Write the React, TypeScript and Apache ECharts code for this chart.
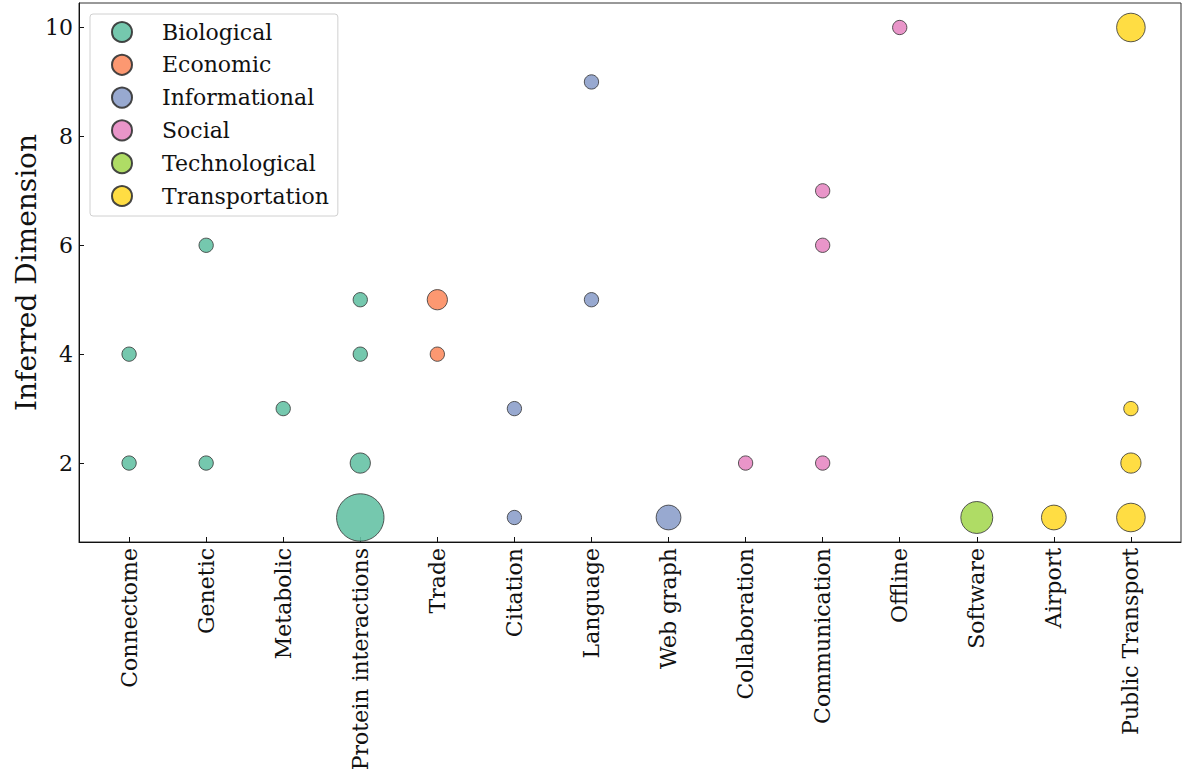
import React, { useEffect, useRef } from "react";
import * as echarts from "echarts";

const categories = [
  "Connectome",
  "Genetic",
  "Metabolic",
  "Protein interactions",
  "Trade",
  "Citation",
  "Language",
  "Web graph",
  "Collaboration",
  "Communication",
  "Offline",
  "Software",
  "Airport",
  "Public Transport",
];

const groupNames = [
  "Biological",
  "Economic",
  "Informational",
  "Social",
  "Technological",
  "Transportation",
];

const groupColors = ["#66c2a5", "#fc8d62", "#8da0cb", "#e78ac3", "#a6d854", "#ffd92f"];

// [category index, inferred dimension, number of networks]
const biological = [
  [0, 4, 1],
  [0, 2, 1],
  [1, 6, 1],
  [1, 2, 1],
  [2, 3, 1],
  [3, 5, 1],
  [3, 4, 1],
  [3, 2, 2],
  [3, 1, 11],
];
const economic = [
  [4, 5, 2],
  [4, 4, 1],
];
const informational = [
  [5, 3, 1],
  [5, 1, 1],
  [6, 9, 1],
  [6, 5, 1],
  [7, 1, 3],
];
const social = [
  [8, 2, 1],
  [9, 7, 1],
  [9, 6, 1],
  [9, 2, 1],
  [10, 10, 1],
];
const technological = [[11, 1, 5]];
const transportation = [
  [12, 1, 3],
  [13, 10, 4],
  [13, 3, 1],
  [13, 2, 2],
  [13, 1, 4],
];

const groupData = [biological, economic, informational, social, technological, transportation];

const yTicks = [2, 4, 6, 8, 10];
const xTicks = categories.map((_, i) => i);
const yTitle = "Inferred Dimension";

const FONT = "DejaVu Serif";

export default function App() {
  const ref = useRef<HTMLDivElement>(null);
  useEffect(() => {
    if (!ref.current) return;
    const chart = echarts.init(ref.current, null, { renderer: "svg" });
    chart.setOption({
      animation: false,
      backgroundColor: "#ffffff",
      textStyle: { fontFamily: FONT },
      grid: {
        left: 79,
        right: 5,
        top: 3,
        bottom: 240,
        containLabel: false,
        outerBoundsMode: "none",
        show: true,
        borderColor: "#333",
        borderWidth: 1,
        backgroundColor: "transparent",
      },
      graphic: [
        {
          type: "text",
          x: 26,
          y: 272.5,
          rotation: Math.PI / 2,
          style: {
            text: yTitle,
            fontFamily: FONT,
            fontSize: 28,
            fill: "#111",
            align: "center",
            verticalAlign: "middle",
          },
        },
      ],
      legend: {
        orient: "vertical",
        left: 90,
        top: 14,
        padding: [7, 9, 9, 21],
        itemWidth: 20,
        itemHeight: 20,
        itemGap: 10.8,
        backgroundColor: "rgba(255,255,255,0.85)",
        borderColor: "#d0d0d0",
        borderWidth: 1,
        borderRadius: 3,
        icon: "circle",
        textStyle: {
          fontFamily: FONT,
          fontSize: 22,
          lineHeight: 20,
          color: "#111",
          padding: [0, 0, 0, 25],
        },
        data: groupNames,
      },
      xAxis: {
        type: "value",
        min: -0.65,
        max: 13.65,
        splitLine: { show: false },
        axisLine: { show: true, onZero: false, lineStyle: { color: "#111", width: 1 } },
        axisTick: {
          show: true,
          inside: true,
          length: 5,
          customValues: xTicks,
          lineStyle: { color: "#111" },
        },
        axisLabel: {
          show: true,
          rotate: 90,
          margin: 6,
          fontFamily: FONT,
          fontSize: 22,
          color: "#111",
          customValues: xTicks,
          formatter: (v: number) => categories[Math.round(v)] ?? "",
        },
      },
      yAxis: {
        type: "value",
        min: 0.55,
        max: 10.45,
        splitLine: { show: false },
        axisLine: { show: true, onZero: false, lineStyle: { color: "#111", width: 1 } },
        axisTick: {
          show: true,
          inside: true,
          length: 5,
          customValues: yTicks,
          lineStyle: { color: "#111" },
        },
        axisLabel: {
          show: true,
          margin: 6,
          fontFamily: FONT,
          fontSize: 22,
          color: "#111",
          customValues: yTicks,
        },
      },
      series: groupNames.map((name, gi) => ({
        name,
        type: "scatter",
        data: groupData[gi],
        symbol: "circle",
        symbolSize: (val: number[]) => 14.3 * Math.sqrt(val[2]),
        itemStyle: {
          color: groupColors[gi],
          borderColor: "#333",
          borderWidth: 0.9,
          opacity: 0.9,
        },
        emphasis: { disabled: true },
      })),
    });
    return () => chart.dispose();
  }, []);
  return <div ref={ref} style={{ width: 1186, height: 782, position: "absolute", left: 0, top: 0 }} />;
}
